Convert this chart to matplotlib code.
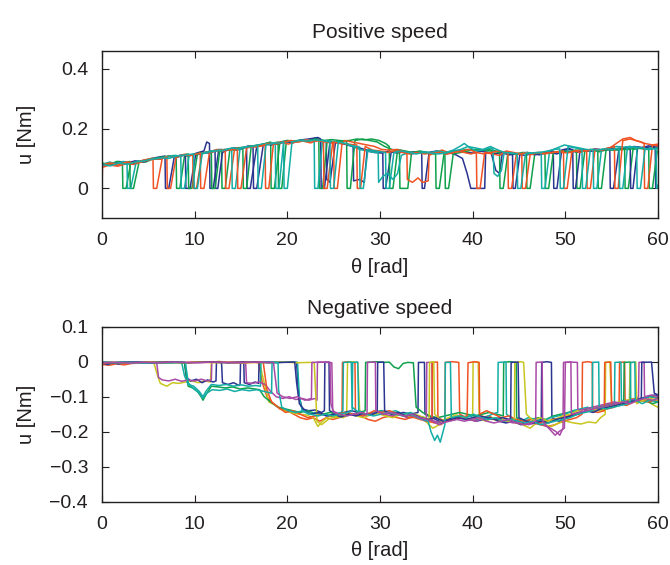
import matplotlib
matplotlib.use('Agg')
import matplotlib.pyplot as plt

plt.rcParams['font.family'] = ['Liberation Sans', 'DejaVu Sans']

# ---------------- colours ----------------
BLUE = '#2B3590'
ORANGE = '#F05323'
GREEN = '#0EA04B'
TEAL = '#14ADA5'
MAGENTA = '#A94AA6'
YELLOW = '#C8C51E'

# ---------------- axis ticks ----------------
x_ticks = [0, 10, 20, 30, 40, 50, 60]
pos_y_ticks = [0, 0.2, 0.4]
pos_y_labels = ['0', '0.2', '0.4']
neg_y_ticks = [0.1, 0, -0.1, -0.2, -0.3, -0.4]
neg_y_labels = ['0.1', '0', '\u22120.1', '\u22120.2', '\u22120.3', '\u22120.4']

# ---------------- Positive speed (theta, u) ----------------
pos_blue_a = [(0,.075),(0.8,.085),(1.6,.078),(2.5,.088),(3.4,.083),(4.3,.092),(5.2,.098),(6.0,.104),(6.8,.108),(6.85,0),(7.2,0),(7.8,.105),(8.6,.112),(9.4,.108),(10.2,.118),(11.0,.125),(11.3,.155),(11.6,.15),(11.65,0),(12.0,0),(12.6,.13),(13.4,.128),(14.2,.135),(15.0,.132),(15.8,.142),(16.3,.14),(16.35,0),(16.7,0),(17.4,.145),(18.2,.15),(19.0,.148),(19.8,.156),(20.6,.152),(21.4,.16),(22.2,.158),(23.0,.168),(23.6,.16),(24.2,.158),(24.25,.03),(24.6,.02),(25.2,.155),(26.0,.15),(26.8,.145),(27.1,.14),(27.15,.025),(27.8,.03),(28.3,.02),(28.6,.125),(29.4,.12),(30.2,.118),(31.0,.125),(31.8,.118),(32.6,.122),(33.4,.115),(34.2,.12),(35.0,.117),(35.8,.122),(36.6,.118),(37.4,.12),(38.2,.112),(38.9,.1),(39.4,.05),(39.8,0),(41.3,0),(41.4,.12),(42.0,.118),(42.5,.06),(42.9,.05),(43.2,.118),(44.0,.112),(44.8,.115),(45.6,.11),(46.4,.116),(47.2,.112),(48.0,.12),(48.7,.125),(48.75,0),(49.1,0),(49.6,.128),(50.4,.134),(51.2,.12),(52.0,.128),(52.8,.124),(53.6,.13),(54.4,.128),(54.8,.13),(54.85,0),(55.2,0),(55.8,.135),(56.6,.13),(57.4,.14),(58.2,.136),(59.0,.142),(59.8,.138),(60,.14)]
pos_blue_b = [(0,.082),(0.9,.078),(1.8,.09),(2.7,.085),(3.6,.092),(4.5,.088),(5.4,.1),(6.3,.098),(7.2,.108),(8.1,.104),(9.0,.112),(9.05,0),(9.5,0),(10.1,.11),(10.9,.12),(11.6,.118),(12.2,.125),(12.25,0),(12.5,0),(13.0,.12),(13.8,.132),(14.6,.128),(15.6,.138),(15.65,0),(16.0,0),(16.7,.14),(17.5,.148),(18.3,.145),(19.1,.152),(19.9,.158),(20.7,.155),(21.5,.162),(22.3,.165),(23.3,.17),(23.6,.165),(23.65,0),(24.0,0),(24.6,.155),(25.4,.152),(26.2,.148),(27.0,.14),(27.8,.135),(28.6,.128),(29.4,.125),(30.3,.12),(30.35,0),(30.6,0),(31.2,.12),(32.0,.125),(32.8,.118),(33.6,.122),(34.5,.12),(34.55,0),(34.8,0),(35.3,.12),(36.1,.125),(36.9,.118),(37.7,.122),(38.5,.125),(39.3,.12),(40.1,.118),(40.9,.124),(41.7,.12),(42.5,.116),(43.3,.12),(44.3,.118),(44.35,0),(44.6,0),(45.1,.115),(45.9,.12),(46.7,.112),(47.5,.118),(48.3,.12),(49.1,.115),(49.9,.128),(50.8,.13),(50.85,0),(51.1,0),(51.6,.13),(52.4,.125),(53.2,.132),(54.0,.128),(54.8,.135),(55.6,.13),(56.4,.135),(57.0,.14),(57.05,0),(57.3,0),(57.8,.138),(58.6,.135),(59.3,.14),(59.7,.135),(59.75,0),(60,.01)]
pos_orange_a = [(0,0),(0.05,.07),(0.8,.078),(1.7,.074),(2.6,.082),(3.5,.08),(4.4,.09),(5.2,.095),(5.5,.1),(5.55,0),(5.9,0),(6.5,.1),(7.3,.108),(8.1,.105),(8.9,.114),(9.8,.11),(9.85,0),(10.2,0),(10.8,.118),(11.6,.122),(12.4,.13),(13.3,.125),(13.35,0),(13.7,0),(14.3,.13),(15.1,.135),(15.9,.14),(16.7,.138),(17.6,.145),(17.65,0),(18.0,0),(18.5,.15),(19.3,.155),(20.1,.148),(20.9,.155),(21.7,.158),(22.5,.152),(23.3,.16),(24.1,.155),(25.0,.15),(25.05,0),(25.4,0),(25.9,.15),(26.2,.16),(27.0,.155),(27.8,.15),(28.6,.145),(29.4,.14),(30.2,.13),(31.0,.128),(31.8,.13),(32.4,.125),(32.9,.12),(32.95,.03),(33.5,.02),(34.1,.035),(34.6,.02),(35.2,.025),(35.3,.11),(35.9,.12),(36.7,.128),(37.5,.118),(38.3,.125),(39.1,.12),(39.8,.115),(40.4,.12),(40.45,0),(40.8,0),(41.3,.12),(42.1,.115),(42.9,.11),(43.6,.125),(44.4,.12),(45.3,.115),(45.35,0),(45.7,0),(46.2,.112),(47.0,.118),(47.8,.115),(48.6,.12),(49.4,.122),(50.2,.118),(51.0,.125),(51.6,.12),(52.3,.128),(52.35,0),(52.7,0),(53.2,.13),(54.0,.128),(54.8,.135),(55.5,.15),(56.2,.165),(57.0,.17),(57.6,.16),(58.2,.155),(58.5,.15),(58.55,0),(58.9,0),(59.4,.145),(60,.148)]
pos_orange_b = [(0,.078),(0.9,.085),(1.8,.08),(2.7,.088),(3.6,.085),(4.5,.095),(5.4,.1),(6.3,.098),(7.0,.105),(7.05,0),(7.4,0),(8.0,.105),(8.8,.112),(9.6,.11),(10.6,.118),(10.65,0),(11.0,0),(11.6,.12),(12.4,.125),(13.2,.13),(13.9,.128),(14.6,.135),(14.65,0),(15.0,0),(15.6,.135),(16.4,.14),(17.2,.142),(18.0,.15),(18.8,.148),(19.6,.155),(20.4,.16),(21.2,.155),(22.0,.162),(22.8,.158),(23.5,.16),(23.9,.155),(23.95,0),(24.3,0),(24.9,.155),(25.7,.15),(26.5,.148),(27.5,.145),(27.55,0),(27.9,0),(28.4,.14),(29.2,.128),(30.0,.125),(30.8,.12),(31.6,.125),(32.4,.12),(33.2,.115),(34.0,.12),(34.8,.115),(35.6,.118),(36.4,.12),(37.2,.114),(38.0,.12),(38.8,.125),(39.6,.13),(40.4,.12),(41.2,.115),(42.0,.12),(42.8,.125),(43.8,.118),(43.85,0),(44.2,0),(44.7,.112),(45.5,.118),(46.3,.115),(47.1,.12),(47.9,.118),(48.7,.12),(49.8,.125),(49.85,0),(50.2,0),(50.7,.122),(51.5,.128),(52.3,.125),(53.1,.13),(53.9,.128),(54.6,.135),(55.3,.14),(55.35,0),(55.7,0),(56.2,.16),(57.0,.165),(57.8,.158),(58.6,.15),(59.4,.145),(60,.142)]
pos_green_a = [(0,.08),(0.7,.085),(1.5,.078),(2.2,.088),(2.25,0),(2.6,0),(3.1,.085),(3.9,.09),(4.7,.088),(5.5,.098),(6.3,.1),(7.1,.105),(8.0,.11),(8.05,0),(8.4,0),(8.9,.108),(9.7,.112),(10.5,.118),(11.3,.12),(12.1,.125),(12.9,.13),(12.95,0),(13.3,0),(13.8,.13),(14.6,.135),(15.4,.138),(16.2,.142),(17.0,.145),(17.6,.15),(18.2,.155),(18.25,0),(18.6,0),(19.2,.155),(20.0,.16),(20.8,.158),(21.6,.162),(22.4,.16),(23.2,.165),(24.0,.16),(24.8,.163),(25.6,.16),(26.4,.158),(26.45,0),(26.8,0),(27.3,.16),(28.1,.165),(28.9,.16),(29.7,.155),(30.5,.14),(31.3,.13),(32.1,.125),(32.15,0),(33.0,0),(33.4,.12),(34.2,.118),(35.0,.12),(35.7,.115),(36.0,.115),(36.05,0),(36.4,0),(36.9,.115),(37.7,.12),(38.5,.125),(39.3,.13),(40.1,.128),(40.9,.125),(41.7,.13),(42.5,.125),(43.3,.12),(44.1,.118),(44.9,.115),(45.8,.118),(45.85,0),(46.2,0),(46.7,.115),(47.5,.12),(48.3,.118),(49.1,.12),(49.9,.125),(50.6,.12),(51.2,.125),(51.25,0),(51.6,0),(52.1,.125),(52.9,.128),(53.7,.122),(54.5,.13),(55.3,.128),(56.4,.13),(56.45,0),(56.8,0),(57.3,.13),(58.1,.135),(58.9,.13),(59.5,.135),(60,.132)]
pos_green_b = [(0,.085),(0.8,.08),(1.6,.09),(2.4,.085),(3.0,.09),(3.05,0),(3.4,0),(4.0,.088),(4.8,.095),(5.6,.1),(6.4,.104),(7.2,.108),(8.0,.105),(8.8,.112),(9.3,.115),(9.35,0),(9.7,0),(10.3,.115),(11.1,.12),(11.8,.125),(11.85,0),(12.2,0),(12.7,.125),(13.5,.13),(14.3,.128),(15.2,.135),(15.25,0),(15.6,0),(16.1,.14),(16.9,.145),(17.7,.148),(18.4,.15),(19.0,.155),(19.05,0),(19.4,0),(19.9,.16),(20.7,.155),(21.5,.16),(22.3,.158),(23.0,.165),(23.4,.16),(23.45,0),(23.8,0),(24.3,.16),(25.1,.155),(25.9,.158),(26.7,.16),(27.5,.165),(28.3,.162),(29.1,.165),(29.9,.16),(30.6,.15),(31.0,.14),(31.05,0),(31.4,0),(31.9,.13),(32.7,.125),(33.5,.12),(34.3,.125),(35.1,.12),(35.9,.118),(36.5,.12),(37.0,.118),(37.05,0),(37.4,0),(37.9,.115),(38.7,.12),(39.5,.125),(40.3,.13),(41.1,.128),(41.9,.125),(42.9,.12),(42.95,0),(43.3,0),(43.8,.118),(44.6,.115),(45.4,.12),(46.2,.118),(47.0,.12),(47.8,.118),(47.85,0),(48.2,0),(48.7,.12),(49.5,.125),(50.3,.122),(51.1,.128),(51.9,.125),(52.7,.13),(53.5,.128),(53.55,0),(53.9,0),(54.4,.13),(55.2,.128),(56.0,.132),(56.8,.13),(57.6,.135),(58.4,.132),(59.0,.13),(59.05,0),(59.4,0),(59.9,.12),(60,.125)]
pos_teal_a = [(0,.078),(0.8,.088),(1.6,.082),(2.3,.09),(2.7,.085),(2.75,0),(3.1,0),(3.7,.09),(4.5,.092),(5.3,.1),(6.1,.098),(6.9,.105),(7.7,.11),(8.5,.108),(8.55,0),(8.9,0),(9.4,.11),(10.2,.115),(11.0,.118),(11.8,.125),(12.6,.128),(13.3,.13),(14.0,.132),(14.05,0),(14.4,0),(14.9,.135),(15.7,.14),(16.5,.142),(17.3,.148),(18.0,.15),(18.7,.152),(18.75,0),(19.1,0),(19.6,.155),(20.4,.158),(21.2,.16),(22.0,.162),(22.9,.158),(22.95,0),(23.3,0),(23.8,.16),(24.6,.158),(25.4,.155),(26.2,.15),(27.0,.14),(27.8,.13),(28.6,.125),(29.4,.12),(29.8,.12),(29.85,.02),(30.3,.04),(30.8,.05),(31.4,.03),(31.9,.05),(32.3,.11),(33.1,.12),(33.9,.118),(34.7,.122),(35.5,.12),(36.3,.125),(37.1,.12),(37.9,.128),(38.6,.14),(39.1,.15),(39.7,.135),(40.5,.125),(41.3,.13),(42.0,.135),(42.2,.13),(42.3,.05),(42.7,.04),(43.1,.06),(43.4,.12),(44.2,.118),(45.0,.115),(45.8,.12),(46.6,.118),(47.4,.12),(47.45,0),(47.8,0),(48.3,.125),(49.1,.135),(49.9,.145),(50.7,.14),(51.5,.135),(52.3,.13),(53.0,.128),(53.05,0),(53.4,0),(53.9,.13),(54.7,.135),(55.5,.14),(56.3,.138),(57.0,.14),(57.7,.135),(57.75,0),(58.1,0),(58.6,.13),(59.3,.135),(59.8,.13),(59.85,0),(60,.01)]
pos_teal_b = [(0,.08),(0.9,.075),(1.8,.085),(2.7,.08),(3.6,.088),(4.5,.092),(5.4,.098),(6.3,.102),(7.2,.1),(8.1,.108),(9.0,.112),(9.9,.115),(9.95,0),(10.3,0),(10.8,.115),(11.6,.122),(12.4,.125),(13.2,.128),(14.0,.135),(14.8,.132),(15.6,.138),(16.3,.14),(16.8,.145),(16.85,0),(17.2,0),(17.7,.145),(18.5,.15),(19.2,.152),(19.6,.155),(19.65,0),(20.0,0),(20.5,.155),(21.3,.16),(22.1,.158),(22.9,.162),(23.7,.16),(24.6,.155),(24.65,0),(25.0,0),(25.5,.155),(26.3,.15),(27.1,.142),(27.8,.138),(27.85,0),(28.2,0),(28.7,.13),(29.5,.125),(30.1,.122),(30.6,.12),(30.65,0),(31.0,0),(31.5,.12),(32.3,.125),(33.1,.12),(33.9,.115),(34.7,.12),(35.5,.118),(36.3,.115),(37.1,.118),(37.9,.125),(38.7,.13),(39.5,.14),(40.3,.135),(41.1,.13),(41.9,.14),(42.6,.13),(43.4,.12),(44.1,.118),(44.8,.115),(44.85,0),(45.2,0),(45.7,.115),(46.5,.118),(47.3,.12),(48.1,.125),(48.8,.13),(49.4,.132),(49.45,0),(49.8,0),(50.3,.14),(51.1,.135),(51.8,.13),(51.85,0),(52.2,0),(52.7,.13),(53.5,.128),(54.3,.132),(55.1,.13),(55.8,.135),(55.85,0),(56.2,0),(56.7,.135),(57.5,.138),(58.3,.135),(59.1,.13),(60,.135)]

# ---------------- Negative speed (theta, u) ----------------
neg_orange_a = [(0,-.008),(0.8,-.01),(1.6,-.006),(2.4,-.009),(3.2,-.005),(4.0,-.004),(5.0,-.002),(6.0,-.001),(7.5,0),(9,-.002),(10.5,-.001),(12,0),(13.5,-.002),(15,-.001),(16.5,-.002),(16.9,-.003),(17.3,-.06),(17.8,-.1),(18.5,-.12),(19.2,-.135),(20.0,-.14),(20.7,-.15),(21.4,-.16),(22.1,-.165),(22.8,-.16),(23.5,-.17),(24.2,-.16),(24.9,-.165),(25.6,-.16),(25.9,-.155),(25.95,-.002),(26.6,0),(27.3,-.003),(27.35,-.14),(28.0,-.155),(28.7,-.165),(29.5,-.17),(30.3,-.16),(31.1,-.155),(31.9,-.16),(32.7,-.165),(33.5,-.158),(34.3,-.165),(35.1,-.17),(35.9,-.175),(36.6,-.18),(37.0,-.17),(37.05,-.002),(37.8,0),(38.5,-.002),(38.6,-.15),(39.3,-.16),(40.1,-.168),(40.9,-.16),(41.7,-.155),(42.5,-.165),(43.3,-.17),(44.1,-.165),(44.9,-.172),(45.7,-.18),(46.5,-.175),(47.3,-.18),(48.1,-.185),(48.9,-.18),(49.7,-.17),(50.5,-.165),(51.2,-.16),(51.8,-.15),(51.85,-.002),(52.4,0),(52.9,-.002),(52.95,-.13),(53.7,-.14),(54.5,-.135),(55.3,-.13),(55.8,-.12),(55.85,-.002),(56.4,-.001),(56.45,-.11),(57.2,-.115),(58.0,-.105),(58.8,-.11),(59.5,-.1),(60,-.105)]
neg_orange_b = [(0,-.006),(1,-.003),(2,-.005),(3,-.002),(4,-.004),(5,-.001),(7,-.002),(9,-.003),(11,-.001),(13,-.002),(15,-.003),(17,-.001),(17.4,-.002),(17.8,-.08),(18.3,-.115),(19.0,-.13),(19.8,-.145),(20.6,-.14),(21.4,-.15),(22.2,-.16),(23.0,-.155),(23.8,-.15),(24.6,-.155),(25.4,-.15),(26.2,-.145),(27.0,-.15),(27.8,-.155),(28.6,-.15),(29.4,-.14),(30.2,-.145),(31.0,-.14),(31.8,-.148),(32.6,-.155),(33.4,-.16),(34.2,-.155),(35.0,-.165),(35.6,-.17),(35.65,-.002),(36.2,-.001),(36.25,-.16),(37.0,-.17),(37.8,-.165),(38.6,-.16),(39.4,-.155),(39.5,-.003),(40.2,0),(40.7,-.002),(40.75,-.15),(41.5,-.14),(42.3,-.15),(43.1,-.16),(43.9,-.155),(44.7,-.165),(45.5,-.17),(46.3,-.165),(47.1,-.175),(47.9,-.17),(48.7,-.165),(49.5,-.16),(50.3,-.155),(51.1,-.15),(51.9,-.145),(52.7,-.14),(53.5,-.145),(54.2,-.14),(54.25,-.002),(54.9,-.001),(55.0,-.13),(55.8,-.12),(56.6,-.125),(57.4,-.115),(58.2,-.11),(59.0,-.115),(59.8,-.11),(60,-.112)]
neg_yellow_a = [(0,-.002),(1,-.004),(2,-.001),(3,-.003),(4,-.002),(5,-.004),(5.6,-.003),(6.0,-.04),(6.3,-.062),(7.0,-.07),(7.6,-.06),(8.3,-.062),(9.0,-.058),(9.7,-.055),(10.4,-.06),(11.1,-.055),(11.7,-.058),(11.8,-.002),(12.6,.001),(13.5,-.002),(14.5,0),(15.5,-.002),(16.5,0),(17.0,-.002),(17.5,-.06),(18.0,-.115),(18.8,-.125),(19.6,-.14),(20.4,-.145),(21.2,-.15),(22.0,-.152),(22.8,-.16),(23.3,-.185),(23.8,-.17),(24.5,-.155),(25.2,-.16),(25.9,-.155),(26.4,-.15),(26.5,-.002),(27.0,0),(27.6,-.003),(27.8,-.14),(28.5,-.15),(29.3,-.145),(30.1,-.15),(30.9,-.155),(31.7,-.148),(32.5,-.155),(33.3,-.15),(34.1,-.16),(34.9,-.17),(35.7,-.19),(36.4,-.18),(37.1,-.17),(37.9,-.165),(38.7,-.16),(39.5,-.155),(40.0,-.15),(40.05,0),(40.6,-.002),(40.7,-.15),(41.4,-.16),(42.2,-.165),(43.0,-.17),(43.8,-.165),(44.6,-.175),(45.4,-.18),(46.2,-.19),(46.9,-.175),(47.7,-.18),(48.5,-.185),(49.3,-.175),(50.1,-.17),(50.9,-.175),(51.7,-.178),(52.5,-.172),(53.3,-.175),(53.8,-.16),(54.3,-.15),(54.35,-.002),(54.8,0),(55.0,-.12),(55.8,-.115),(56.6,-.11),(57.4,-.105),(58.2,-.11),(59.0,-.115),(59.6,-.125),(60,-.13)]
neg_yellow_b = [(0,-.003),(1,-.001),(2,-.004),(3,-.002),(4,-.003),(5,-.001),(6,-.003),(7.5,-.002),(9,-.004),(10.5,-.001),(12,-.003),(13.5,-.002),(15,-.004),(16.5,-.002),(18,-.003),(19.5,-.001),(21,-.003),(22.5,-.002),(22.9,-.003),(23.2,-.17),(23.7,-.18),(24.4,-.165),(25.2,-.155),(26.0,-.16),(26.8,-.15),(27.5,-.155),(28.2,-.16),(29.0,-.152),(29.8,-.148),(30.6,-.155),(31.4,-.16),(32.2,-.15),(33.0,-.155),(33.8,-.15),(34.6,-.158),(35.3,-.165),(35.35,-.002),(35.8,0),(35.9,-.15),(36.6,-.17),(37.4,-.16),(38.2,-.152),(39.0,-.158),(39.8,-.165),(40.6,-.16),(41.4,-.17),(42.2,-.16),(43.0,-.165),(43.8,-.17),(44.5,-.165),(44.55,-.003),(45.2,0),(45.5,-.002),(45.8,-.15),(46.5,-.168),(47.3,-.16),(48.1,-.17),(48.9,-.165),(49.7,-.155),(50.5,-.15),(51.3,-.14),(52.1,-.145),(52.9,-.135),(53.7,-.14),(54.5,-.13),(55.3,-.125),(56.1,-.12),(56.9,-.118),(57.0,-.003),(57.6,-.001),(57.7,-.12),(58.4,-.11),(59.2,-.105),(60,-.11)]
neg_blue_a = [(0,-.004),(0.6,-.008),(1.2,-.003),(1.8,-.007),(2.4,-.002),(3.2,-.004),(4.2,-.002),(5.2,-.003),(6.2,-.001),(7.2,-.003),(8.2,-.002),(8.9,-.002),(9.1,-.045),(9.6,-.055),(10.2,-.05),(10.8,-.06),(11.4,-.052),(12.0,-.058),(12.3,-.055),(12.35,-.002),(12.9,-.003),(13.0,-.06),(13.6,-.065),(14.2,-.06),(14.8,-.068),(14.9,-.065),(14.95,-.002),(15.3,-.001),(15.35,-.06),(15.9,-.065),(16.5,-.058),(16.9,-.062),(16.95,-.002),(18,0),(19,-.002),(20,-.001),(21.0,-.002),(21.2,-.09),(21.6,-.135),(22.3,-.14),(23.0,-.138),(23.7,-.145),(24.0,-.14),(24.05,-.002),(24.5,-.001),(24.55,-.14),(25.3,-.15),(26.1,-.145),(26.9,-.14),(27.7,-.145),(28.5,-.15),(29.3,-.148),(30.1,-.14),(30.9,-.145),(31.7,-.15),(32.5,-.145),(33.3,-.15),(34.1,-.145),(34.15,-.002),(34.8,-.002),(34.85,-.15),(35.6,-.16),(36.4,-.17),(37.2,-.165),(38.0,-.16),(38.8,-.155),(39.6,-.165),(40.4,-.17),(41.2,-.165),(42.0,-.16),(42.8,-.17),(43.6,-.175),(44.4,-.17),(45.2,-.18),(46.0,-.175),(46.8,-.17),(47.4,-.165),(47.45,-.002),(48.0,0),(48.5,-.002),(48.55,-.16),(49.3,-.17),(50.1,-.16),(50.9,-.15),(51.7,-.145),(52.5,-.14),(53.3,-.135),(54.1,-.13),(54.9,-.125),(55.7,-.12),(56.5,-.115),(57.3,-.11),(58.1,-.105),(58.9,-.1),(59.7,-.095),(60,-.1)]
neg_blue_b = [(0,-.002),(1.5,-.003),(3,-.001),(4.5,-.002),(6,-.003),(7.5,-.001),(9,-.003),(10.5,-.002),(12,-.001),(13.5,-.003),(15,-.002),(16.5,-.001),(18,-.003),(19.5,-.002),(20.8,-.001),(21.0,-.06),(21.3,-.12),(21.9,-.14),(22.6,-.15),(23.4,-.145),(24.2,-.155),(25.0,-.15),(25.8,-.158),(26.6,-.15),(27.4,-.155),(28.2,-.148),(29.0,-.152),(29.7,-.145),(29.75,-.002),(30.4,-.001),(30.5,-.14),(31.2,-.15),(32.0,-.145),(32.8,-.155),(33.6,-.15),(34.4,-.16),(35.2,-.165),(36.0,-.16),(36.8,-.17),(37.6,-.165),(38.4,-.16),(39.2,-.165),(40.0,-.16),(40.8,-.155),(41.6,-.16),(42.4,-.165),(43.2,-.16),(44.0,-.165),(44.1,-.16),(44.15,-.002),(44.9,-.001),(45.0,-.16),(45.8,-.17),(46.6,-.175),(47.4,-.17),(48.2,-.175),(49.0,-.165),(49.8,-.16),(50.6,-.155),(51.4,-.15),(52.2,-.14),(53.0,-.145),(53.8,-.135),(54.6,-.13),(55.4,-.125),(56.2,-.12),(57.0,-.115),(57.8,-.11),(58.2,-.105),(58.25,-.002),(59.3,-.001),(59.6,-.09),(60,-.095)]
neg_green_a = [(0,-.003),(0.8,-.005),(1.6,-.002),(2.5,-.004),(3.5,-.002),(4.5,-.003),(5.5,-.001),(6.5,-.003),(7.5,-.002),(8.5,-.001),(8.9,-.003),(9.3,-.07),(9.8,-.075),(10.3,-.085),(10.7,-.1),(10.9,-.11),(11.2,-.095),(11.8,-.07),(12.5,-.072),(13.3,-.075),(14.1,-.072),(14.9,-.078),(15.7,-.075),(16.5,-.078),(17.0,-.08),(17.5,-.1),(18.2,-.115),(19.0,-.13),(19.8,-.135),(20.6,-.14),(21.4,-.145),(22.2,-.14),(23.0,-.148),(23.8,-.15),(24.6,-.145),(25.4,-.15),(26.2,-.155),(27.0,-.15),(27.8,-.145),(28.4,-.14),(28.45,-.002),(29.5,0),(30.5,-.002),(31.0,-.001),(31.5,-.015),(32.0,-.02),(32.5,-.005),(33.0,-.002),(33.6,-.003),(33.9,-.13),(34.6,-.145),(35.4,-.155),(36.2,-.16),(37.0,-.155),(37.8,-.15),(38.6,-.145),(39.4,-.15),(40.2,-.155),(41.0,-.15),(41.8,-.145),(42.6,-.15),(43.3,-.155),(43.35,-.002),(44.0,0),(44.7,-.002),(44.75,-.16),(45.5,-.17),(46.3,-.165),(47.1,-.16),(47.9,-.165),(48.7,-.155),(49.5,-.15),(50.3,-.145),(51.1,-.14),(51.9,-.135),(52.7,-.14),(53.5,-.13),(54.3,-.125),(55.1,-.12),(55.9,-.118),(56.3,-.12),(56.35,-.002),(57.0,-.001),(57.05,-.11),(57.8,-.115),(58.6,-.11),(59.4,-.12),(60,-.115)]
neg_teal_a = [(0,-.002),(1,-.004),(2,-.001),(3,-.003),(4,-.002),(5,-.004),(6,-.002),(7,-.003),(8,-.001),(8.6,-.003),(8.9,-.04),(9.3,-.065),(9.9,-.07),(10.5,-.085),(10.9,-.1),(11.2,-.085),(11.8,-.065),(12.6,-.068),(13.4,-.065),(14.2,-.07),(15.0,-.066),(15.8,-.07),(16.6,-.068),(17.1,-.07),(17.15,-.002),(18,-.001),(19,-.002),(20,-.001),(21.1,-.002),(21.3,-.1),(21.6,-.14),(22.3,-.15),(23.0,-.145),(23.7,-.15),(24.4,-.155),(25.1,-.15),(25.8,-.145),(26.0,-.14),(26.05,-.002),(26.9,-.001),(27.0,-.13),(27.7,-.145),(28.5,-.15),(29.3,-.145),(30.1,-.14),(30.9,-.145),(31.7,-.14),(32.5,-.15),(33.3,-.145),(34.1,-.155),(34.9,-.16),(35.7,-.17),(36.5,-.175),(37.3,-.17),(38.1,-.165),(38.9,-.16),(39.7,-.155),(40.5,-.165),(41.3,-.16),(42.1,-.15),(42.7,-.145),(42.75,-.002),(43.6,-.001),(43.65,-.15),(44.4,-.165),(45.2,-.17),(46.0,-.16),(46.8,-.165),(47.6,-.17),(48.4,-.16),(49.2,-.155),(50.0,-.15),(50.8,-.14),(51.6,-.135),(52.4,-.13),(53.2,-.14),(54.0,-.13),(54.8,-.125),(55.3,-.12),(55.35,-.002),(56.0,-.001),(56.05,-.11),(56.8,-.115),(57.6,-.11),(58.4,-.105),(59.2,-.1),(60,-.105)]
neg_teal_b = [(0,-.001),(1.5,-.003),(3,-.002),(4.5,-.004),(6,-.002),(7.5,-.003),(9.0,-.002),(9.3,-.06),(9.8,-.075),(10.5,-.09),(10.9,-.105),(11.3,-.09),(11.9,-.08),(12.7,-.082),(13.5,-.078),(14.3,-.085),(15.1,-.08),(15.9,-.083),(16.7,-.08),(17.5,-.085),(18.3,-.09),(18.35,-.002),(19.0,-.003),(19.05,-.08),(19.4,-.13),(20.1,-.14),(20.9,-.145),(21.7,-.14),(22.5,-.15),(23.3,-.155),(24.1,-.15),(24.9,-.155),(25.7,-.15),(26.5,-.145),(27.0,-.14),(27.05,-.002),(27.6,-.001),(27.7,-.14),(28.5,-.15),(29.3,-.155),(30.1,-.15),(30.9,-.145),(31.7,-.15),(32.5,-.155),(33.3,-.15),(34.1,-.16),(34.7,-.165),(35.2,-.17),(35.5,-.2),(35.9,-.225),(36.2,-.21),(36.5,-.23),(36.8,-.2),(37.0,-.18),(37.05,-.002),(37.6,-.002),(37.7,-.16),(38.5,-.155),(39.3,-.16),(40.1,-.15),(40.9,-.16),(41.7,-.165),(42.5,-.16),(43.3,-.17),(44.1,-.165),(44.9,-.17),(45.7,-.175),(46.5,-.17),(47.3,-.18),(48.1,-.175),(48.9,-.17),(49.7,-.165),(50.5,-.16),(51.3,-.15),(52.1,-.145),(52.9,-.14),(52.95,-.002),(53.6,-.001),(53.65,-.13),(54.4,-.135),(55.2,-.13),(56.0,-.125),(56.8,-.12),(57.0,-.115),(57.05,-.002),(57.5,-.001),(57.55,-.11),(58.3,-.12),(59.1,-.11),(60,-.115)]
neg_magenta_a = [(0,-.002),(1,-.001),(2,-.003),(3,-.001),(4,-.002),(5,-.001),(5.9,-.002),(6.1,-.045),(6.5,-.052),(7.2,-.055),(7.9,-.05),(8.6,-.056),(9.3,-.052),(10.0,-.055),(10.7,-.05),(11.4,-.055),(11.8,-.052),(11.85,-.002),(12.8,-.001),(13.8,-.002),(14.8,-.001),(15.5,-.002),(15.6,-.06),(16.2,-.062),(16.9,-.058),(17.6,-.065),(18.2,-.085),(18.8,-.1),(19.5,-.105),(20.2,-.1),(20.9,-.108),(21.6,-.105),(22.3,-.11),(23.0,-.105),(23.2,-.11),(23.25,-.002),(24.0,-.001),(24.6,-.002),(24.7,-.12),(25.0,-.145),(25.7,-.15),(26.5,-.145),(27.3,-.15),(28.1,-.155),(28.9,-.15),(29.7,-.145),(30.5,-.15),(31.3,-.155),(32.1,-.15),(32.9,-.16),(33.7,-.155),(34.5,-.165),(35.0,-.17),(35.05,-.002),(35.6,-.002),(35.65,-.17),(36.4,-.18),(37.2,-.17),(38.0,-.165),(38.8,-.16),(39.6,-.165),(40.4,-.17),(41.2,-.16),(42.0,-.165),(42.8,-.16),(43.6,-.17),(44.4,-.175),(45.2,-.17),(46.0,-.18),(46.8,-.175),(47.6,-.18),(48.4,-.19),(49.0,-.2),(49.4,-.21),(49.75,-.19),(49.8,-.002),(50.5,-.001),(51.3,-.002),(51.35,-.14),(52.1,-.135),(52.9,-.13),(53.7,-.125),(54.5,-.12),(55.3,-.115),(56.1,-.12),(56.9,-.11),(57.7,-.105),(57.9,-.1),(57.95,-.002),(58.5,-.001),(58.55,-.1),(59.3,-.095),(60,-.1)]
neg_magenta_b = [(0,-.003),(1.5,-.002),(3,-.004),(4.5,-.002),(6,-.003),(7.5,-.001),(9,-.002),(10.5,-.003),(12,-.001),(13.5,-.002),(15,-.003),(16.5,-.001),(18,-.002),(18.5,-.002),(18.9,-.09),(19.5,-.1),(20.3,-.105),(21.1,-.1),(21.9,-.11),(22.6,-.105),(22.65,-.002),(23.5,-.001),(24.4,-.002),(24.8,-.003),(24.9,-.14),(25.6,-.15),(26.4,-.155),(27.2,-.15),(28.0,-.145),(28.6,-.15),(28.65,-.002),(29.5,-.001),(29.55,-.14),(30.3,-.15),(31.1,-.145),(31.9,-.15),(32.7,-.155),(33.5,-.15),(34.3,-.16),(35.1,-.165),(35.9,-.17),(36.7,-.175),(37.5,-.17),(38.3,-.165),(39.1,-.17),(39.9,-.165),(40.7,-.16),(41.5,-.17),(42.3,-.175),(43.1,-.17),(43.9,-.165),(44.7,-.175),(45.5,-.18),(46.3,-.175),(46.8,-.17),(46.85,-.002),(47.5,-.001),(47.55,-.17),(48.2,-.19),(48.9,-.21),(49.3,-.2),(49.9,-.19),(50.0,-.002),(50.6,-.001),(50.65,-.15),(51.4,-.145),(52.2,-.14),(53.0,-.135),(53.8,-.13),(54.6,-.125),(55.4,-.12),(56.2,-.115),(57.0,-.12),(57.8,-.11),(58.6,-.105),(59.4,-.11),(60,-.105)]

pos_series = [(pos_blue_a, BLUE), (pos_green_a, GREEN), (pos_blue_b, BLUE), (pos_green_b, GREEN),
              (pos_orange_a, ORANGE), (pos_teal_a, TEAL), (pos_orange_b, ORANGE), (pos_teal_b, TEAL)]
neg_series = [(neg_orange_a, ORANGE), (neg_yellow_a, YELLOW), (neg_blue_a, BLUE), (neg_green_a, GREEN),
              (neg_teal_a, TEAL), (neg_magenta_a, MAGENTA), (neg_orange_b, ORANGE), (neg_yellow_b, YELLOW),
              (neg_blue_b, BLUE), (neg_teal_b, TEAL), (neg_magenta_b, MAGENTA)]

# ---------------- figure ----------------
W, H = 670, 565
fig = plt.figure(figsize=(W / 100, H / 100), dpi=100)
ax1 = fig.add_axes([102 / W, 1 - 218.3 / H, 556 / W, 167.6 / H])
ax2 = fig.add_axes([102 / W, 1 - 501.7 / H, 556 / W, 175 / H])

FRAME = '#231F20'
FS = 14

def style(ax, title, yticks, ylabels, ylim):
    ax.set_xlim(0, 60)
    ax.set_ylim(*ylim)
    ax.set_xticks(x_ticks)
    ax.set_xticklabels([str(t) for t in x_ticks])
    ax.set_yticks(yticks)
    ax.set_yticklabels(ylabels)
    ax.tick_params(direction='in', top=True, right=True, length=5, width=0.8,
                   labelsize=FS, color=FRAME, labelcolor=FRAME)
    ax.tick_params(axis='x', pad=10)
    ax.tick_params(axis='y', pad=10)
    for s in ax.spines.values():
        s.set_color(FRAME)
        s.set_linewidth(1.0)
    ax.set_title(title, fontsize=15, pad=9, color=FRAME)
    ax.set_xlabel('\u03b8 [rad]', fontsize=14.5, color=FRAME, labelpad=6)
    ax.set_ylabel('u [Nm]', fontsize=14.5, color=FRAME)
    ax.yaxis.set_label_coords(-0.118, 0.5)

for data, col in pos_series:
    th, u = zip(*data)
    ax1.plot(th, u, color=col, lw=1.1)
for data, col in neg_series:
    th, u = zip(*data)
    ax2.plot(th, u, color=col, lw=1.1)

style(ax1, 'Positive speed', pos_y_ticks, pos_y_labels, (-0.1, 0.46))
style(ax2, 'Negative speed', neg_y_ticks, neg_y_labels, (-0.4, 0.1))

fig.savefig('out.png', dpi=100)
